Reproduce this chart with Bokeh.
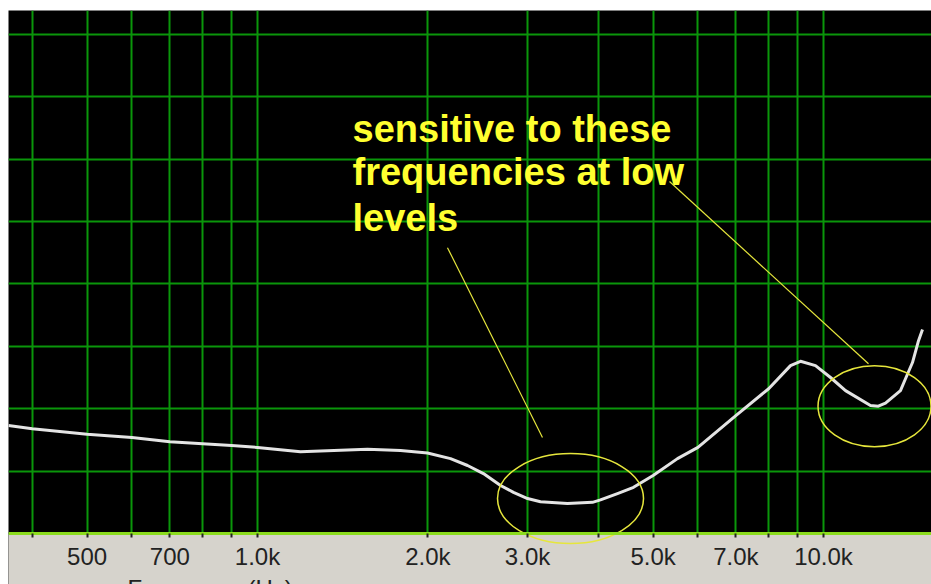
from bokeh.plotting import figure
from bokeh.models import Range1d, FixedTicker, Label, Spacer
from bokeh.layouts import column, row
from bokeh.embed import file_html
from bokeh.resources import INLINE

# ---- data ----
freq_hz = [363, 400, 500, 600, 700, 800, 900, 1000, 1191, 1564, 1789, 1997,
           2193, 2350, 2507, 2688, 2833, 3000, 3162, 3529, 3907, 4036, 4325,
           4617, 5000, 5521, 6000, 7000, 8000, 8744, 9107, 9680, 10290, 10937,
           12106, 12500, 12869, 13677, 13960, 14363, 14720, 14960]
level_db = [17.3, 16.8, 15.9, 15.4, 14.7, 14.4, 14.1, 13.8, 13.1, 13.5, 13.3,
            12.9, 12.0, 10.9, 9.6, 7.7, 6.6, 5.6, 5.1, 4.8, 5.0, 5.4, 6.4,
            7.4, 9.3, 12.0, 13.8, 18.9, 23.2, 26.9, 27.6, 26.9, 25.0, 22.9,
            20.5, 20.4, 20.9, 22.9, 24.8, 27.4, 30.9, 32.7]
grid_freqs = [400, 500, 600, 700, 800, 900, 1000, 2000, 3000, 4000, 5000,
              6000, 7000, 8000, 9000, 10000]
tick_labels = {500: "500", 700: "700", 1000: "1.0k", 2000: "2.0k",
               3000: "3.0k", 5000: "5.0k", 7000: "7.0k", 10000: "10.0k"}
level_grid = [0, 10, 20, 30, 40, 50, 60, 70, 80]

annotation_lines = ["sensitive to these", "frequencies at low", "levels"]
ellipse_x = [3573, 12307]
ellipse_y = [5.6, 20.4]
leader_x0 = [2166, 5345]
leader_y0 = [45.8, 56.4]
leader_x1 = [3188, 12010]
leader_y1 = [15.4, 27.2]

x_range = Range1d(363.1, 15518)
y_range = Range1d(-8.17, 83.81)

# the frame covers the black plot area and the grey strip under it;
# the frequency axis is pinned at level 0
p = figure(width=923, height=574, x_axis_type="log",
           x_range=x_range, y_range=y_range,
           y_axis_location=None, output_backend="svg", toolbar_location=None,
           min_border_left=0, min_border_right=0, min_border_top=0,
           min_border_bottom=0)
p.background_fill_color = "#000000"
p.border_fill_color = "#d6d3cc"
p.outline_line_color = None

# grid
p.xaxis.ticker = FixedTicker(ticks=grid_freqs, minor_ticks=[])
p.ygrid.ticker = FixedTicker(ticks=level_grid, minor_ticks=[])
p.grid.grid_line_color = "#0a960a"
p.grid.grid_line_width = 2

# grey strip below the axis (first glyph: above the grid, below the marks)
p.quad(left=x_range.start, right=x_range.end, bottom=y_range.start, top=0,
       fill_color="#d6d3cc", line_color=None)

# x axis
p.xaxis.fixed_location = 0
p.xaxis.major_label_overrides = {f: tick_labels.get(f, "") for f in grid_freqs}
p.xaxis.axis_line_color = "#8cdc1e"
p.xaxis.axis_line_width = 3
p.xaxis.major_tick_in = 0
p.xaxis.major_tick_out = 4
p.xaxis.major_tick_line_color = "#222222"
p.xaxis.major_tick_line_width = 2
p.xaxis.minor_tick_line_color = None
p.xaxis.major_label_standoff = 5
p.xaxis.major_label_text_font = "Liberation Sans"
p.xaxis.major_label_text_font_size = "24px"
p.xaxis.major_label_text_color = "#222222"

# curve
p.line(freq_hz, level_db, line_color="#e4e4e4", line_width=3,
       line_join="round")

# annotation ellipses and leader lines
p.ellipse(x=ellipse_x[0], y=ellipse_y[0], width=146, height=90,
          width_units="screen", height_units="screen",
          fill_color=None, line_color="#e6e63c", line_width=1.5)
p.ellipse(x=ellipse_x[1], y=ellipse_y[1], width=113, height=81,
          width_units="screen", height_units="screen",
          fill_color=None, line_color="#e6e63c", line_width=1.5)
p.segment(x0=leader_x0, y0=leader_y0, x1=leader_x1, y1=leader_y1,
          line_color="#e6e63c", line_width=1.2)

# annotation text
for txt, yb in zip(annotation_lines, [64.9, 57.9, 50.6]):
    p.add_layout(Label(x=1472, y=yb, text=txt, text_align="left",
                       text_baseline="alphabetic",
                       text_font="Liberation Sans", text_font_style="bold",
                       text_font_size="38px", text_color="#ffff30"))

# axis title (cropped at the bottom as in the reference)
p.add_layout(Label(x=589, y=-6.6, text="Frequency (Hz)", text_align="left",
                   text_baseline="top", text_font="Liberation Sans",
                   text_font_size="24px", text_color="#222222"))

layout = column(Spacer(height=10, width=931), row(Spacer(width=8, height=574), p))
open("out.html", "w").write(file_html(layout, INLINE))
